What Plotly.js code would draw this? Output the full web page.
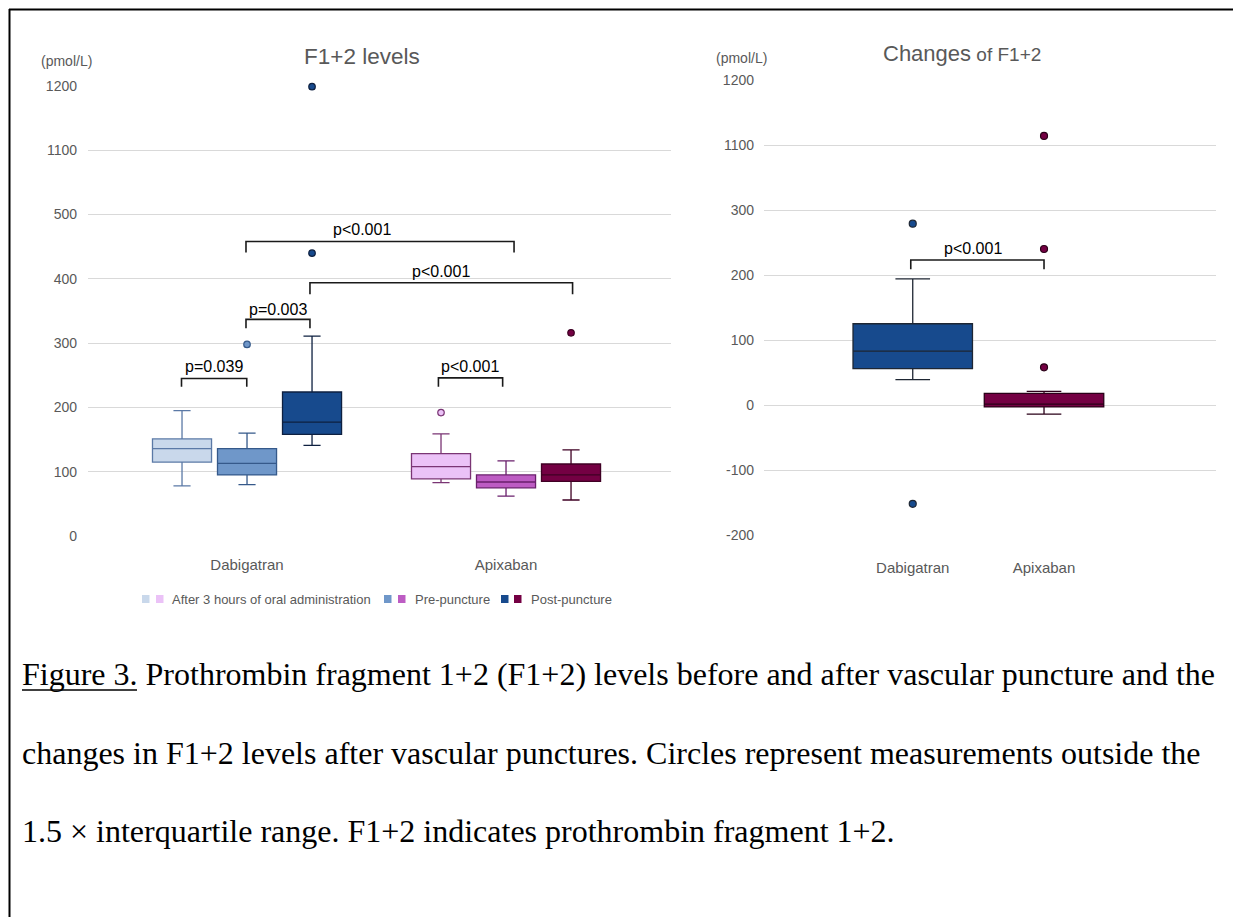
<!DOCTYPE html>
<html>
<head>
<meta charset="utf-8">
<script src="https://cdn.plot.ly/plotly-3.0.1.min.js"></script>
<style>
html,body{margin:0;padding:0;background:#fff;}
#chart{width:1233px;height:917px;}
</style>
</head>
<body>
<div id="chart"></div>
<script>
// ---------------- DATA ----------------
const groups = ['Dabigatran', 'Apixaban'];
const seriesNames = ['After 3 hours of oral administration', 'Pre-puncture', 'Post-puncture'];
const leftTickVals = [0, 100, 200, 300, 400, 500, 1100, 1200];
const rightTickVals = [-200, -100, 0, 100, 200, 300, 1100, 1200];

// Left panel: F1+2 levels (pmol/L), per group [Dabigatran, Apixaban]
const after3hQ1 = [115, 89];
const after3hMedian = [136, 108];
const after3hQ3 = [151, 128];
const after3hLow = [78, 83];
const after3hHigh = [195, 159];
const after3hOutliers = [[], [192]];

const preQ1 = [95, 75];
const preMedian = [113, 84];
const preQ3 = [136, 95];
const preLow = [80, 62];
const preHigh = [160, 117];
const preOutliers = [[298], []];

const postQ1 = [158, 85];
const postMedian = [177, 95];
const postQ3 = [224, 112];
const postLow = [141, 56];
const postHigh = [311, 134];
const postOutliers = [[440, 1199], [316]];

// Right panel: changes of F1+2 (pmol/L)
const changeQ1 = [56, -3];
const changeMedian = [83, 1.5];
const changeQ3 = [125, 18];
const changeLow = [39, -14];
const changeHigh = [194, 21];
const changeOutliers = [[279, -152], [1114, 240, 58]];

// ---------------- STYLE ----------------
const W = 1233, H = 917;
const px = v => v / W;
const py = v => 1 - v / H;
const FONT = 'Liberation Sans, Arial, sans-serif';
const GRAY = '#595959';

// broken axes
const mapLeft = v => (v <= 500 ? v : v - 500);
const mapRight = v => (v <= 300 ? v : v - 700);

const fills = [['#c9d8eb', '#6f97c9', '#174a8d'], ['#ebc2f7', '#bd5cc3', '#740043']];
const edges = [['#5b79a6', '#35598a', '#0e2040'], ['#7a3574', '#6a1f6c', '#3f0024']];
const slot = 0.251, boxW = 0.228;
const offsets = [-slot, 0, slot];

const stats = [
  {q1: after3hQ1, med: after3hMedian, q3: after3hQ3, lo: after3hLow, hi: after3hHigh, out: after3hOutliers},
  {q1: preQ1, med: preMedian, q3: preQ3, lo: preLow, hi: preHigh, out: preOutliers},
  {q1: postQ1, med: postMedian, q3: postQ3, lo: postLow, hi: postHigh, out: postOutliers}
];

const traces = [];
stats.forEach((s, si) => {
  groups.forEach((g, gi) => {
    const x = gi + offsets[si];
    traces.push({
      type: 'box', xaxis: 'x', yaxis: 'y',
      name: seriesNames[si] + ' ' + g,
      x: [x], q1: [s.q1[gi]], median: [s.med[gi]], q3: [s.q3[gi]],
      lowerfence: [s.lo[gi]], upperfence: [s.hi[gi]],
      width: boxW, whiskerwidth: 0.29, boxpoints: false,
      fillcolor: fills[gi][si], line: {color: edges[gi][si], width: 1.3},
      hoverinfo: 'skip'
    });
    if (s.out[gi].length) {
      traces.push({
        type: 'scatter', mode: 'markers', xaxis: 'x', yaxis: 'y', cliponaxis: false,
        x: s.out[gi].map(() => x), y: s.out[gi].map(mapLeft),
        marker: {size: 6.5, color: fills[gi][si], line: {color: edges[gi][si], width: 1.2}},
        hoverinfo: 'skip'
      });
    }
  });
});

const rFills = ['#174a8d', '#740043'];
const rEdges = ['#1e2633', '#2a0018'];
groups.forEach((g, gi) => {
  traces.push({
    type: 'box', xaxis: 'x2', yaxis: 'y2', name: g,
    x: [gi], q1: [changeQ1[gi]], median: [changeMedian[gi]], q3: [changeQ3[gi]],
    lowerfence: [changeLow[gi]], upperfence: [changeHigh[gi]],
    width: 0.91, whiskerwidth: 0.29, boxpoints: false,
    fillcolor: rFills[gi], line: {color: rEdges[gi], width: 1.3}, hoverinfo: 'skip'
  });
  traces.push({
    type: 'scatter', mode: 'markers', xaxis: 'x2', yaxis: 'y2', cliponaxis: false,
    x: changeOutliers[gi].map(() => gi), y: changeOutliers[gi].map(mapRight),
    marker: {size: 7, color: rFills[gi], line: {color: rEdges[gi], width: 1.2}},
    hoverinfo: 'skip'
  });
});

// brackets
const brk = [];
function bracket(xr, yr, x0, x1, yLine, yTip) {
  brk.push({type: 'path', xref: xr, yref: yr,
    path: `M ${x0},${yTip} L ${x0},${yLine} L ${x1},${yLine} L ${x1},${yTip}`,
    line: {color: '#1a1a1a', width: 1.6}});
}
bracket('x', 'y', -0.253, -0.001, 245, 232);
bracket('x', 'y', -0.004, 0.243, 337, 323);
bracket('x', 'y', -0.004, 1.031, 458, 441);
bracket('x', 'y', 0.243, 1.257, 394, 376);
bracket('x', 'y', 0.739, 0.987, 246, 232);
bracket('x2', 'y2', -0.015, 1.0, 223, 209);

const pFont = {family: FONT, size: 16, color: '#000'};
const ann = [
  {xref: 'x', yref: 'y', x: -0.127, y: 263, text: 'p=0.039'},
  {xref: 'x', yref: 'y', x: 0.119, y: 353, text: 'p=0.003'},
  {xref: 'x', yref: 'y', x: 0.443, y: 477, text: 'p<0.001'},
  {xref: 'x', yref: 'y', x: 0.749, y: 411, text: 'p<0.001'},
  {xref: 'x', yref: 'y', x: 0.861, y: 264, text: 'p<0.001'},
  {xref: 'x2', yref: 'y2', x: 0.46, y: 241, text: 'p<0.001'}
].map(a => Object.assign(a, {showarrow: false, font: pFont, xanchor: 'center', yanchor: 'middle'}));

// titles and units
ann.push({xref: 'paper', yref: 'paper', x: px(362), y: py(57), text: 'F1+2 levels', showarrow: false,
  font: {family: FONT, size: 22.5, color: GRAY}, xanchor: 'center', yanchor: 'middle'});
ann.push({xref: 'paper', yref: 'paper', x: px(962), y: py(53), text: 'Changes<span style="font-size:19px"> of F1+2</span>', showarrow: false,
  font: {family: FONT, size: 22, color: GRAY}, xanchor: 'center', yanchor: 'middle'});
ann.push({xref: 'paper', yref: 'paper', x: px(66), y: py(61), text: '(pmol/L)', showarrow: false,
  font: {family: FONT, size: 14, color: GRAY}, xanchor: 'center', yanchor: 'middle'});
ann.push({xref: 'paper', yref: 'paper', x: px(741.5), y: py(58), text: '(pmol/L)', showarrow: false,
  font: {family: FONT, size: 14, color: GRAY}, xanchor: 'center', yanchor: 'middle'});

// legend (manual: two swatches per entry)
const legX = [[142, 156, 170], [384, 398, 413], [501, 514, 529]];
seriesNames.forEach((n, si) => {
  [0, 1].forEach(gi => {
    brk.push({type: 'rect', xref: 'paper', yref: 'paper',
      x0: px(legX[si][gi]), x1: px(legX[si][gi] + 7.5), y0: py(603), y1: py(595),
      fillcolor: fills[gi][si], line: {width: 0}});
  });
  ann.push({xref: 'paper', yref: 'paper', x: px(legX[si][2]), y: py(599), text: n, showarrow: false,
    font: {family: FONT, size: 13, color: GRAY}, xanchor: 'left', yanchor: 'middle'});
});

// caption
const capFont = {family: 'Liberation Serif, Times New Roman, serif', size: 32, color: '#000'};
const capLines = [
  'Figure 3. Prothrombin fragment 1+2 (F1+2) levels before and after vascular puncture and the',
  'changes in F1+2 levels after vascular punctures. Circles represent measurements outside the',
  '1.5 \u00d7 interquartile range. F1+2 indicates prothrombin fragment 1+2.'
];
const capY = [674, 753, 831];
capLines.forEach((t, i) => {
  ann.push({xref: 'paper', yref: 'paper', x: px(20), y: py(capY[i]), text: t, showarrow: false,
    font: capFont, xanchor: 'left', yanchor: 'middle'});
});
brk.push({type: 'line', xref: 'paper', yref: 'paper', x0: px(22), x1: px(137), y0: py(690), y1: py(690),
  line: {color: '#000', width: 1.5}});

// page border
brk.push({type: 'line', xref: 'paper', yref: 'paper', x0: px(9.5), x1: px(9.5), y0: py(9), y1: -0.05, line: {color: '#000', width: 2}});
brk.push({type: 'line', xref: 'paper', yref: 'paper', x0: px(9), x1: px(1240), y0: py(9.5), y1: py(9.5), line: {color: '#000', width: 2}});

const tickText = vals => vals.map(String);

const layout = {
  width: W, height: H, margin: {l: 0, r: 0, t: 0, b: 0},
  paper_bgcolor: '#fff', plot_bgcolor: '#fff', showlegend: false,
  xaxis: {domain: [px(88), px(671)], range: [-0.614, 1.637], tickvals: [0, 1], ticktext: groups,
    showgrid: false, zeroline: false, showline: false, ticks: '', ticklabelstandoff: 18,
    tickfont: {family: FONT, size: 15, color: GRAY}, fixedrange: true},
  yaxis: {domain: [py(536), py(86)], range: [0, 700], tickvals: leftTickVals.map(mapLeft), ticktext: tickText(leftTickVals),
    showgrid: true, gridcolor: '#d9d9d9', gridwidth: 1, zeroline: false, showline: false, ticks: '',
    ticklabelstandoff: 10, tickfont: {family: FONT, size: 14, color: GRAY}, fixedrange: true},
  xaxis2: {domain: [px(764), px(1216)], range: [-1.133, 2.31], anchor: 'y2', tickvals: [0, 1], ticktext: groups,
    showgrid: false, zeroline: false, showline: false, ticks: '', ticklabelstandoff: 22,
    tickfont: {family: FONT, size: 15, color: GRAY}, fixedrange: true},
  yaxis2: {domain: [py(535), py(80)], range: [-200, 500], anchor: 'x2', tickvals: rightTickVals.map(mapRight), ticktext: tickText(rightTickVals),
    showgrid: true, gridcolor: '#d9d9d9', gridwidth: 1, zeroline: false, showline: false, ticks: '',
    ticklabelstandoff: 9, tickfont: {family: FONT, size: 14, color: GRAY}, fixedrange: true},
  shapes: brk,
  annotations: ann
};

Plotly.newPlot('chart', traces, layout, {displayModeBar: false, staticPlot: true});
</script>
</body>
</html>
